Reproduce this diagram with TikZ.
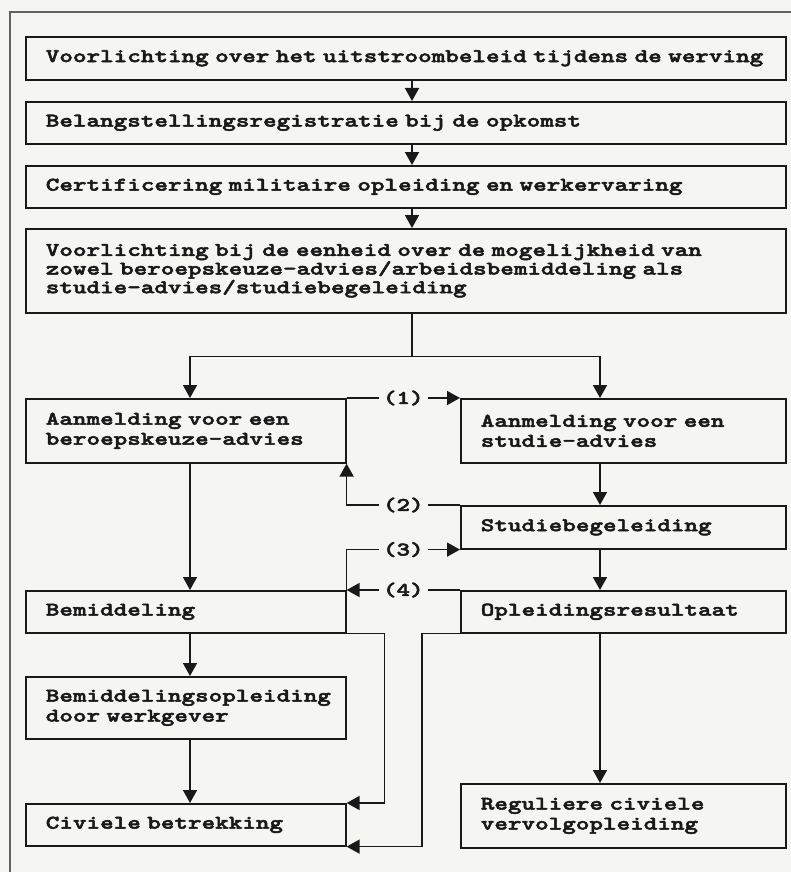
\documentclass[tikz,border=0pt]{standalone}
\usepackage{fontspec}
\usetikzlibrary{arrows.meta,calc}
\newfontfamily\boxfont[FakeStretch=1.34,FakeBold=2.6]{lmmonolt10-bold.otf}
\definecolor{paper}{rgb}{0.96,0.96,0.95}
\definecolor{ink}{rgb}{0.1,0.1,0.1}
\lineskiplimit=-6pt
\newcommand{\bxfont}{\boxfont\fontsize{19.3}{20}\selectfont}
\tikzset{arr/.style={-{Triangle[length=13pt,width=14pt]}},
  box/.style={draw, anchor=north west, inner xsep=20pt, inner ysep=0pt, align=left, font=\bxfont},
  wide/.style={minimum width=760pt, text width=720pt},
  lft/.style={minimum width=320pt, text width=280pt},
  rgt/.style={minimum width=325pt, text width=285pt},
  lbl/.style={fill=paper, inner xsep=4pt, inner ysep=1pt, font=\bxfont}}

\begin{document}
\begin{tikzpicture}[x=1pt, y=-1pt, line width=1.6pt, draw=ink, text=ink]
  \useasboundingbox (0,0) rectangle (791,872);
  \fill[paper] (0,0) rectangle (791,872);
  % page frame, top and left
  \draw[gray!70!ink, line width=1.4pt] (791,12) -- (10,12) -- (10,872);
  % main chain
  \node[box, wide, minimum height=43pt] (werving) at (25,36) {Voorlichting over het uitstroombeleid tijdens de werving};
  \node[box, wide, minimum height=42pt] (opkomst) at (25,101) {Belangstellingsregistratie bij de opkomst};
  \node[box, wide, minimum height=42pt] (certif) at (25,165) {Certificering militaire opleiding en werkervaring};
  \node[box, wide, minimum height=84pt, font=\boxfont\fontsize{19.3}{16.5}\selectfont] (voorl) at (25,228)
    {Voorlichting bij de eenheid over de mogelijkheid van\\zowel beroepskeuze-advies/arbeidsbemiddeling als\\studie-advies/studiebegeleiding};
  % left column
  \node[box, lft, minimum height=64pt] (beroep) at (25,398) {Aanmelding voor een\\beroepskeuze-advies};
  \node[box, lft, minimum height=42pt] (bemid) at (25,590) {Bemiddeling};
  \node[box, lft, minimum height=62pt] (bemopl) at (25,676) {Bemiddelingsopleiding\\door werkgever};
  \node[box, lft, minimum height=42pt] (civiel) at (25,803) {Civiele betrekking};
  % right column
  \node[box, rgt, minimum height=64pt] (studie) at (460,398) {Aanmelding voor een\\studie-advies};
  \node[box, rgt, minimum height=43pt] (begel) at (460,505) {Studiebegeleiding};
  \node[box, rgt, minimum height=42pt] (opl) at (460,590) {Opleidingsresultaat};
  \node[box, rgt, minimum height=64pt] (regul) at (460,783) {Reguliere civiele\\vervolgopleiding};
  % arrow columns
  \coordinate (cM) at (412,0);
  \coordinate (cL) at (190,0);
  \coordinate (cR) at (600,0);
  \draw[arr] (werving.south -| cM) -- (opkomst.north -| cM);
  \draw[arr] (opkomst.south -| cM) -- (certif.north -| cM);
  \draw[arr] (certif.south -| cM) -- (voorl.north -| cM);
  % split into the two tracks
  \draw (voorl.south -| cM) -- ($(voorl.south -| cM)+(0,43)$) coordinate (split);
  \draw[arr] (split) -| (beroep.north -| cL);
  \draw[arr] (split) -| (studie.north -| cR);
  \draw[arr] (beroep.south -| cL) -- (bemid.north -| cL);
  \draw[arr] (bemid.south -| cL) -- (bemopl.north -| cL);
  \draw[arr] (bemopl.south -| cL) -- (civiel.north -| cL);
  \draw[arr] (studie.south -| cR) -- (begel.north -| cR);
  \draw[arr] (begel.south -| cR) -- (opl.north -| cR);
  \draw[arr] (opl.south -| cR) -- (regul.north -| cR);
  % cross links (1)-(4)
  \draw[arr] (beroep.north east) -- node[lbl]{(1)} (studie.north west);
  \draw[arr] (begel.north west) -- node[lbl]{(2)} (begel.north west -| beroep.east) -- (beroep.south east);
  \draw[arr] (bemid.north east) -- (bemid.north east |- begel.south) -- node[lbl]{(3)} (begel.south west);
  \draw[arr] (opl.north west) -- node[lbl]{(4)} (bemid.north east);
  % bypasses into civiele betrekking
  \draw[arr] (bemid.south east) -- ++(38,0) |- (civiel.north east);
  \draw[arr] (opl.south west) -- ++(-38,0) |- (civiel.south east);
\end{tikzpicture}
\end{document}
